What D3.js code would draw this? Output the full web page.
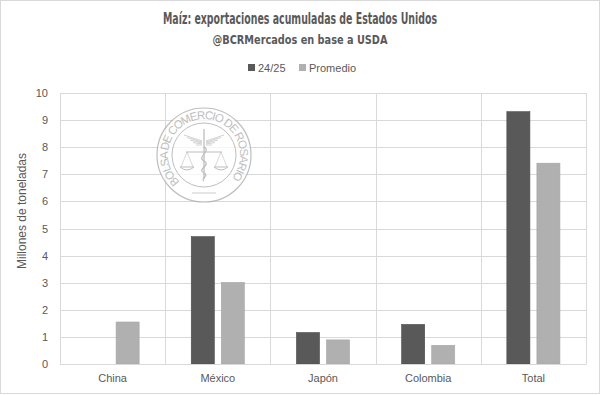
<!DOCTYPE html>
<html>
<head>
<meta charset="utf-8">
<script src="https://cdn.jsdelivr.net/npm/d3@7"></script>
<style>
  body { margin: 0; background: #fff; }
  text { font-family: "Liberation Sans", Arial, sans-serif; fill: #595959; }
</style>
</head>
<body>
<div id="chart"></div>
<script>
// data
var categories = ["China", "México", "Japón", "Colombia", "Total"];
var seriesNames = ["24/25", "Promedio"];
var valores2425 = [0, 4.7, 1.16, 1.46, 9.31];
var valoresPromedio = [1.55, 3.01, 0.89, 0.69, 7.41];
var yTicks = [0, 1, 2, 3, 4, 5, 6, 7, 8, 9, 10];

var colors = { "24/25": "#595959", "Promedio": "#b0b0b0" };

var W = 600, H = 395;
var margin = { top: 93, right: 14, bottom: 31, left: 60 };

var svg = d3.select("#chart").append("svg")
  .attr("width", W)
  .attr("height", H);

// frame
svg.append("rect")
  .attr("x", 0.5).attr("y", 0.5)
  .attr("width", W - 1).attr("height", H - 2)
  .attr("fill", "#fff")
  .attr("stroke", "#d9d9d9");

var x0 = d3.scaleBand()
  .domain(categories)
  .range([margin.left, W - margin.right])
  .paddingInner(0).paddingOuter(0);

var x1 = d3.scaleBand()
  .domain(seriesNames)
  .range([0, x0.bandwidth()])
  .paddingInner(0.233)
  .paddingOuter(0.867);

var y = d3.scaleLinear()
  .domain([0, 10])
  .range([H - margin.bottom, margin.top]);

// horizontal gridlines
svg.append("g").selectAll("line")
  .data(yTicks)
  .enter().append("line")
  .attr("x1", margin.left)
  .attr("x2", W - margin.right)
  .attr("y1", function(d) { return Math.round(y(d)) + 0.5; })
  .attr("y2", function(d) { return Math.round(y(d)) + 0.5; })
  .attr("stroke", "#d9d9d9");

// vertical gridlines at category edges
var edges = categories.map(function(c) { return x0(c); });
edges.push(W - margin.right);
svg.append("g").selectAll("line")
  .data(edges)
  .enter().append("line")
  .attr("x1", function(d) { return Math.round(d) + 0.5; })
  .attr("x2", function(d) { return Math.round(d) + 0.5; })
  .attr("y1", margin.top)
  .attr("y2", H - margin.bottom)
  .attr("stroke", "#d9d9d9");

// watermark seal
function drawSeal(cx, cy) {
  var g = svg.append("g").attr("transform", "translate(" + cx + "," + cy + ")")
    .attr("opacity", 0.75);
  var c = "#a9a9a9";
  g.append("circle").attr("r", 47).attr("fill", "#fff").attr("stroke", c).attr("stroke-width", 1.2);
  g.append("circle").attr("r", 32).attr("fill", "none").attr("stroke", c).attr("stroke-width", 1);

  var r = 36, a0 = -138 * Math.PI / 180, a1 = 138 * Math.PI / 180;
  var p = d3.path();
  p.moveTo(r * Math.sin(a0), -r * Math.cos(a0));
  p.arc(0, 0, r, a0 - Math.PI / 2, a1 - Math.PI / 2, false);
  g.append("path").attr("id", "sealArc").attr("d", p.toString()).attr("fill", "none");
  g.append("text")
    .style("font-size", "11.5px")
    .style("fill", c)
    .append("textPath")
    .attr("href", "#sealArc")
    .attr("textLength", 168)
    .attr("lengthAdjust", "spacing")
    .text("BOLSA DE COMERCIO DE ROSARIO");

  // caduceus staff and scale
  g.append("line").attr("x1", 0).attr("x2", 0).attr("y1", -26).attr("y2", 24).attr("stroke", c).attr("stroke-width", 1.3);
  g.append("line").attr("x1", -18).attr("x2", 18).attr("y1", -3).attr("y2", -3).attr("stroke", c);
  // wings
  [-1, 1].forEach(function(s) {
    for (var i = 0; i < 5; i++) {
      g.append("line")
        .attr("x1", s * 2).attr("y1", -14 + i)
        .attr("x2", s * (20 - i * 3)).attr("y2", -20 + i * 2.5)
        .attr("stroke", c).attr("stroke-width", 0.7);
    }
    // pans
    g.append("line").attr("x1", s * 17).attr("y1", -3).attr("x2", s * 11).attr("y2", 12).attr("stroke", c).attr("stroke-width", 0.6);
    g.append("line").attr("x1", s * 17).attr("y1", -3).attr("x2", s * 23).attr("y2", 12).attr("stroke", c).attr("stroke-width", 0.6);
    g.append("path")
      .attr("d", "M" + (s * 10) + ",12 Q" + (s * 17) + ",18 " + (s * 24) + ",12 Z")
      .attr("fill", "none").attr("stroke", c);
  });
  // snake
  g.append("path")
    .attr("d", "M0,-8 C8,-4 -8,2 0,6 C8,10 -8,14 0,18 C6,20 -4,24 0,26")
    .attr("fill", "none").attr("stroke", c).attr("stroke-width", 1.2);
  g.append("line").attr("x1", -12).attr("x2", 12).attr("y1", 38).attr("y2", 38).attr("stroke", c).attr("stroke-width", 0.8);
}
drawSeal(204, 155);

// bars
var rows = categories.map(function(c, i) {
  return { cat: c, vals: [
    { key: "24/25", v: valores2425[i] },
    { key: "Promedio", v: valoresPromedio[i] }
  ] };
});

var groups = svg.append("g").selectAll("g")
  .data(rows)
  .enter().append("g")
  .attr("transform", function(d) { return "translate(" + x0(d.cat) + ",0)"; });

groups.selectAll("rect")
  .data(function(d) { return d.vals.filter(function(e) { return e.v > 0; }); })
  .enter().append("rect")
  .attr("x", function(d) { return x1(d.key); })
  .attr("width", x1.bandwidth())
  .attr("y", function(d) { return y(d.v); })
  .attr("height", function(d) { return y(0) - y(d.v); })
  .attr("fill", function(d) { return colors[d.key]; })
  .attr("stroke", function(d) { return d.key === "24/25" ? "#4a4a4a" : "#a6a6a6"; })
  .attr("stroke-width", 0.6);

// y axis
var yAxis = d3.axisLeft(y).tickValues(yTicks).tickSize(0).tickPadding(12);
var ya = svg.append("g")
  .attr("transform", "translate(" + margin.left + ",0)")
  .call(yAxis);
ya.select(".domain").remove();
ya.selectAll("text")
  .style("font-family", "'Liberation Sans', Arial, sans-serif")
  .style("font-size", "11px")
  .attr("fill", "#595959");

// x axis
var xAxis = d3.axisBottom(x0).tickSize(0).tickPadding(10);
var xa = svg.append("g")
  .attr("transform", "translate(0," + (H - margin.bottom) + ")")
  .call(xAxis);
xa.select(".domain").attr("stroke", "#d9d9d9");
xa.selectAll("text")
  .style("font-family", "'Liberation Sans', Arial, sans-serif")
  .style("font-size", "11px")
  .attr("fill", "#595959");

// y axis title
svg.append("text")
  .attr("transform", "translate(26,211) rotate(-90)")
  .attr("text-anchor", "middle")
  .style("font-size", "12px")
  .text("Millones de toneladas");

// titles
svg.append("text")
  .attr("x", 300).attr("y", 24)
  .attr("text-anchor", "middle")
  .attr("textLength", 274)
  .attr("lengthAdjust", "spacingAndGlyphs")
  .style("font-family", "'Liberation Sans Narrow', 'DejaVu Sans Condensed', Arial, sans-serif")
  .style("font-weight", "bold")
  .style("font-size", "15.5px")
  .text("Maíz: exportaciones acumuladas de Estados Unidos");

svg.append("text")
  .attr("x", 300).attr("y", 44)
  .attr("text-anchor", "middle")
  .attr("textLength", 175)
  .attr("lengthAdjust", "spacingAndGlyphs")
  .style("font-family", "'Liberation Sans Narrow', 'DejaVu Sans Condensed', Arial, sans-serif")
  .style("font-weight", "bold")
  .style("font-size", "12.5px")
  .text("@BCRMercados en base a USDA");

// legend
var legendX = [248, 299];
var legend = svg.append("g").selectAll("g")
  .data(seriesNames)
  .enter().append("g")
  .attr("transform", function(d, i) { return "translate(" + legendX[i] + ",64)"; });
legend.append("rect")
  .attr("width", 7).attr("height", 7)
  .attr("fill", function(d) { return colors[d]; });
legend.append("text")
  .attr("x", 10).attr("y", 7.5)
  .style("font-size", "11px")
  .text(function(d) { return d; });
</script>
</body>
</html>
